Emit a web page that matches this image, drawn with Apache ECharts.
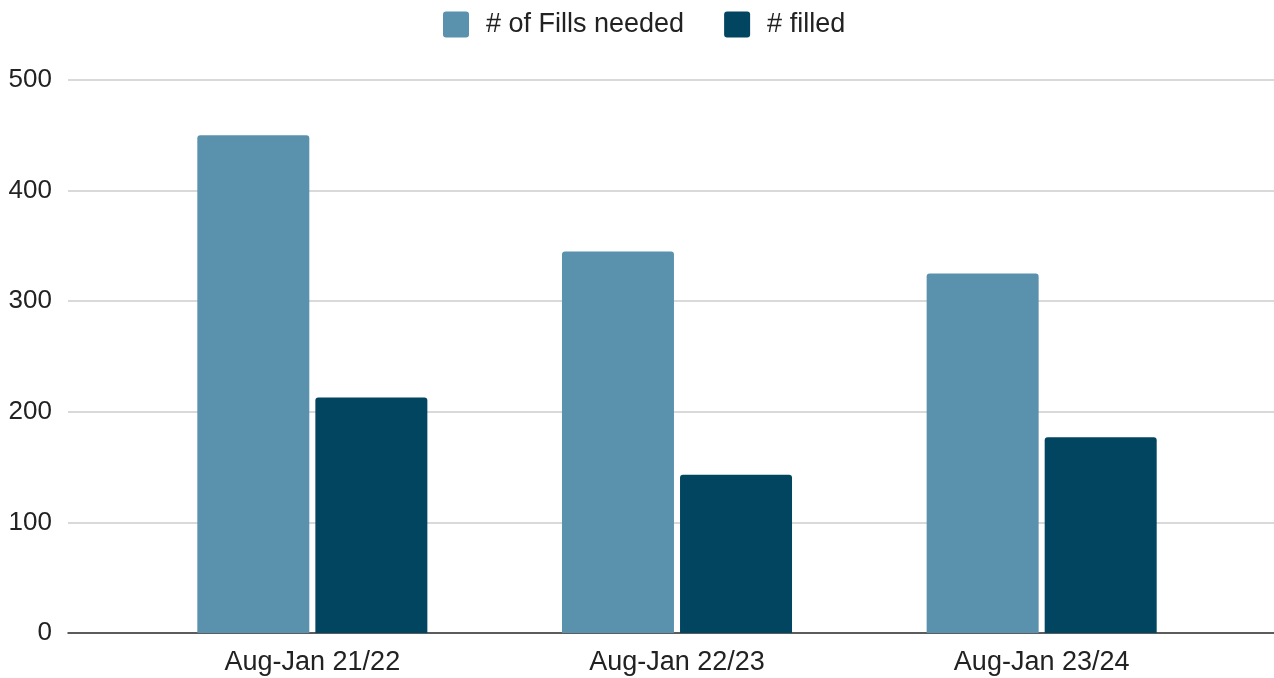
<!DOCTYPE html>
<html>
<head>
<meta charset="utf-8">
<script src="https://cdn.jsdelivr.net/npm/echarts@6/dist/echarts.min.js"></script>
<style>
  html, body { margin: 0; padding: 0; background: #fff; }
  #chart { width: 1274px; height: 678px; }
</style>
</head>
<body>
<div id="chart"></div>
<script>
// data
var categories = ['Aug-Jan 21/22', 'Aug-Jan 22/23', 'Aug-Jan 23/24'];
var fillsNeeded = [450, 345, 325];
var filled = [213, 143, 177];
var yTicks = { min: 0, max: 500, interval: 100 };

var font = '"Liberation Sans", Arial, sans-serif';
// square legend key with slightly rounded corners
var keyIcon = 'path://M3,0 H23 Q26,0 26,3 V23 Q26,26 23,26 H3 Q0,26 0,23 V3 Q0,0 3,0 Z';

var chart = echarts.init(document.getElementById('chart'));

var option = {
  backgroundColor: '#fff',
  animation: false,
  legend: {
    data: ['# of Fills needed', '# filled'],
    left: 438,
    top: 6,
    itemWidth: 26,
    itemHeight: 26,
    itemGap: 40,
    icon: keyIcon,
    textStyle: { fontFamily: font, fontSize: 27, color: '#222', padding: [0, 0, 0, 12] }
  },
  // grid 0: gridlines + y labels across the full width
  // grid 1: the bars, narrower like the original
  grid: [
    { left: 68, right: 0, top: 80, bottom: 45 },
    { left: 130, right: 50, top: 80, bottom: 45 }
  ],
  xAxis: [
    {
      gridIndex: 0,
      type: 'category',
      data: [''],
      axisLine: { show: true, lineStyle: { color: '#333', width: 1.5 } },
      axisTick: { show: false },
      axisLabel: { show: false }
    },
    {
      gridIndex: 1,
      type: 'category',
      data: categories,
      axisLine: { show: false },
      axisTick: { show: false },
      axisLabel: { fontFamily: font, fontSize: 27, color: '#222', margin: 16 }
    }
  ],
  yAxis: [
    {
      gridIndex: 0,
      type: 'value',
      min: yTicks.min,
      max: yTicks.max,
      interval: yTicks.interval,
      axisLabel: { fontFamily: font, fontSize: 26, color: '#222', margin: 16 },
      splitLine: { lineStyle: { color: '#cccccc', width: 1.5 } },
      axisLine: { show: false },
      axisTick: { show: false }
    },
    {
      gridIndex: 1,
      type: 'value',
      min: yTicks.min,
      max: yTicks.max,
      interval: yTicks.interval,
      show: false
    }
  ],
  series: [
    {
      name: '# of Fills needed',
      type: 'bar',
      xAxisIndex: 1,
      yAxisIndex: 1,
      data: fillsNeeded,
      barWidth: 112,
      barGap: '5.4%',
      itemStyle: { color: '#5a92ae', borderRadius: [3, 3, 0, 0] }
    },
    {
      name: '# filled',
      type: 'bar',
      xAxisIndex: 1,
      yAxisIndex: 1,
      data: filled,
      barWidth: 112,
      barGap: '5.4%',
      itemStyle: { color: '#024560', borderRadius: [3, 3, 0, 0] }
    }
  ]
};

chart.setOption(option);
</script>
</body>
</html>
